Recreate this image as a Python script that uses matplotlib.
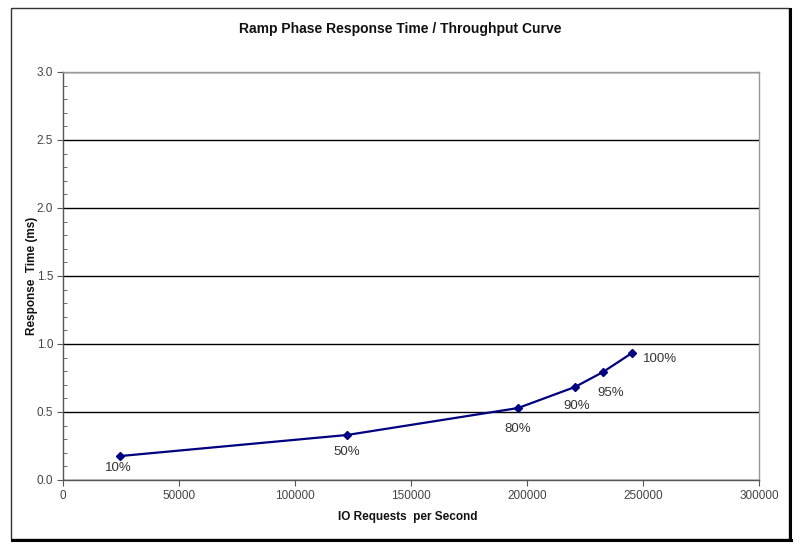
import matplotlib
matplotlib.use("Agg")
import matplotlib.pyplot as plt
from matplotlib.patches import Rectangle
from matplotlib.lines import Line2D
from matplotlib.ticker import MultipleLocator

plt.rcParams['font.family'] = ['Liberation Sans', 'DejaVu Sans']

iops = [24570, 122410, 196120, 220690, 232760, 245260]
resp = [0.176, 0.331, 0.529, 0.684, 0.794, 0.934]
labels = ['10%', '50%', '80%', '90%', '95%', '100%']
label_offsets = [(-1, -8.5), (0, -12), (0, -15), (1.5, -13.5), (5.5, -15), (20, -4)]

W, H = 810, 555
fig = plt.figure(figsize=(W / 100, H / 100), dpi=100)

# outer frame
fig.add_artist(Rectangle((11 / W, 1 - 539 / H), (789 - 11) / W, (539 - 8) / H,
                         transform=fig.transFigure, fill=False, edgecolor='#333333', lw=1.0))
fig.add_artist(Line2D([790 / W, 790 / W], [1 - 540 / H, 1 - 9 / H], transform=fig.transFigure,
                      color='black', lw=2.2))
fig.add_artist(Line2D([12 / W, 791 / W], [1 - 540 / H, 1 - 540 / H], transform=fig.transFigure,
                      color='black', lw=2.2))

ax = fig.add_axes([63 / W, 1 - 480 / H, 696 / W, 408 / H])
ax.set_xlim(0, 300000)
ax.set_ylim(0, 3.0)
ax.xaxis.set_major_locator(MultipleLocator(50000))
ax.yaxis.set_major_locator(MultipleLocator(0.5))
ax.yaxis.set_minor_locator(MultipleLocator(0.1))
ax.yaxis.set_major_formatter(matplotlib.ticker.FormatStrFormatter('%.1f'))

ax.grid(axis='y', which='major', color='black', lw=1.0)
ax.set_axisbelow(True)

for s in ['top', 'right']:
    ax.spines[s].set_color('#999999')
    ax.spines[s].set_linewidth(1.0)
for s in ['left', 'bottom']:
    ax.spines[s].set_color('#555555')
    ax.spines[s].set_linewidth(1.0)

ax.tick_params(axis='both', which='major', direction='out', length=4, color='#555555',
               labelsize=8.5, labelcolor='#444444', pad=3)
ax.tick_params(axis='y', which='minor', direction='in', length=3, color='#555555')

ax.plot(iops, resp, color='#000080', lw=1.6, marker='D', markersize=4.5,
        markerfacecolor='#000080', markeredgecolor='#000080', zorder=5)

for x, y, lab, (dx, dy) in zip(iops, resp, labels, label_offsets):
    ax.annotate(lab, (x, y), xytext=(dx, dy), textcoords='offset points',
                ha='center', va='center', fontsize=9.5, color='#333333')

fig.text(400 / W, 1 - 29 / H, 'Ramp Phase Response Time / Throughput Curve',
         ha='center', va='center', fontsize=10, fontweight='bold', color='#111111')
fig.text(408 / W, 1 - 517 / H, 'IO Requests  per Second',
         ha='center', va='center', fontsize=8.5, fontweight='bold', color='#111111')
fig.text(32 / W, 1 - 276 / H, 'Response  Time (ms)', rotation=90,
         ha='center', va='center', fontsize=8.5, fontweight='bold', color='#111111')

fig.savefig('out.png', dpi=100, facecolor='white')
